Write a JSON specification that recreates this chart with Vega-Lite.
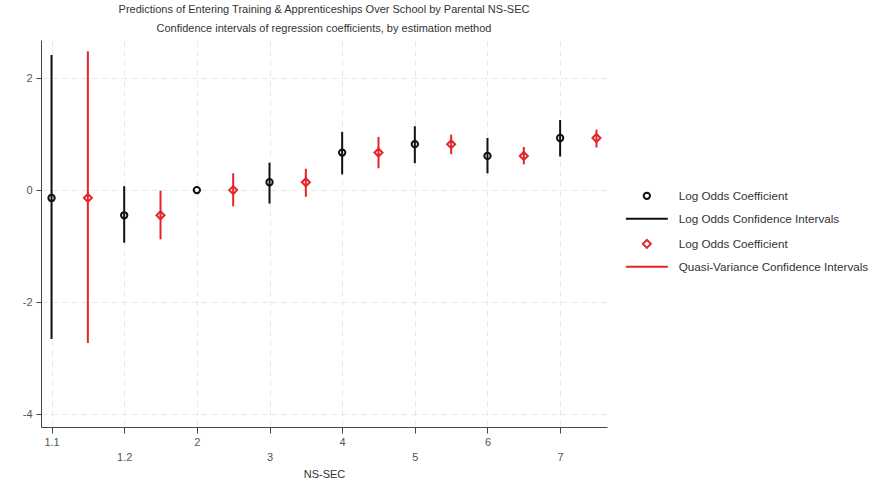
{
  "$schema": "https://vega.github.io/schema/vega-lite/v6.json",
  "width": 566,
  "height": 387,
  "autosize": "none",
  "padding": {"left": 41, "top": 40, "right": 272, "bottom": 54},
  "background": "white",
  "title": {
    "text": "Predictions of Entering Training & Apprenticeships Over School by Parental NS-SEC",
    "subtitle": "Confidence intervals of regression coefficients, by estimation method",
    "font": "Liberation Sans", "fontSize": 11, "fontWeight": "normal", "color": "#333",
    "subtitleFont": "Liberation Sans", "subtitleFontSize": 11, "subtitleColor": "#333",
    "subtitlePadding": 8, "offset": 6, "anchor": "middle"
  },
  "data": {"values": [
    {"nssec": "1.1", "method": "LO", "pt": "LO_pt", "ci": "LO_ci", "est": -0.14, "lo": -2.66, "hi": 2.41},
    {"nssec": "1.1", "method": "QV", "pt": "QV_pt", "ci": "QV_ci", "est": -0.14, "lo": -2.73, "hi": 2.48},
    {"nssec": "1.2", "method": "LO", "pt": "LO_pt", "ci": "LO_ci", "est": -0.45, "lo": -0.94, "hi": 0.07},
    {"nssec": "1.2", "method": "QV", "pt": "QV_pt", "ci": "QV_ci", "est": -0.45, "lo": -0.88, "hi": -0.01},
    {"nssec": "2", "method": "LO", "pt": "LO_pt", "ci": "LO_ci", "est": 0.0, "lo": null, "hi": null},
    {"nssec": "2", "method": "QV", "pt": "QV_pt", "ci": "QV_ci", "est": 0.0, "lo": -0.29, "hi": 0.30},
    {"nssec": "3", "method": "LO", "pt": "LO_pt", "ci": "LO_ci", "est": 0.14, "lo": -0.24, "hi": 0.49},
    {"nssec": "3", "method": "QV", "pt": "QV_pt", "ci": "QV_ci", "est": 0.14, "lo": -0.12, "hi": 0.38},
    {"nssec": "4", "method": "LO", "pt": "LO_pt", "ci": "LO_ci", "est": 0.67, "lo": 0.28, "hi": 1.04},
    {"nssec": "4", "method": "QV", "pt": "QV_pt", "ci": "QV_ci", "est": 0.67, "lo": 0.39, "hi": 0.95},
    {"nssec": "5", "method": "LO", "pt": "LO_pt", "ci": "LO_ci", "est": 0.82, "lo": 0.48, "hi": 1.14},
    {"nssec": "5", "method": "QV", "pt": "QV_pt", "ci": "QV_ci", "est": 0.82, "lo": 0.64, "hi": 0.99},
    {"nssec": "6", "method": "LO", "pt": "LO_pt", "ci": "LO_ci", "est": 0.61, "lo": 0.30, "hi": 0.93},
    {"nssec": "6", "method": "QV", "pt": "QV_pt", "ci": "QV_ci", "est": 0.61, "lo": 0.46, "hi": 0.77},
    {"nssec": "7", "method": "LO", "pt": "LO_pt", "ci": "LO_ci", "est": 0.93, "lo": 0.60, "hi": 1.25},
    {"nssec": "7", "method": "QV", "pt": "QV_pt", "ci": "QV_ci", "est": 0.93, "lo": 0.76, "hi": 1.08}
  ]},
  "transform": [{"calculate": "datum.nssec + '|' + datum.method", "as": "slot"}],
  "encoding": {
    "x": {
      "field": "slot", "type": "nominal", "title": "NS-SEC",
      "scale": {"type": "point", "padding": 0.29,
        "domain": ["1.1|LO","1.1|QV","1.2|LO","1.2|QV","2|LO","2|QV","3|LO","3|QV","4|LO","4|QV","5|LO","5|QV","6|LO","6|QV","7|LO","7|QV"]},
      "axis": {
        "values": ["1.1|LO","1.2|LO","2|LO","3|LO","4|LO","5|LO","6|LO","7|LO"],
        "labelExpr": "indexof(['1.1','1.2','2','3','4','5','6','7'], split(datum.value,'|')[0]) % 2 == 1 ? [' ', split(datum.value,'|')[0]] : split(datum.value,'|')[0]",
        "labelAngle": 0, "labelFont": "Liberation Sans", "labelFontSize": 11, "labelColor": "#555",
        "labelPadding": 3, "labelLineHeight": 15,
        "domainColor": "#444", "tickColor": "#444", "tickSize": 6,
        "grid": true, "gridDash": [6, 4], "gridColor": "#e8e8e8",
        "titleFont": "Liberation Sans", "titleFontSize": 11, "titleFontWeight": "normal", "titleColor": "#333", "titlePadding": 6
      }
    }
  },
  "layer": [
    {
      "mark": {"type": "rule", "strokeWidth": 2},
      "encoding": {
        "y": {"field": "lo", "type": "quantitative"},
        "y2": {"field": "hi"},
        "color": {"field": "ci", "type": "nominal",
          "scale": {"domain": ["LO_pt","LO_ci","QV_pt","QV_ci"], "range": ["#111111","#111111","#e3242b","#e3242b"]}}
      }
    },
    {
      "mark": {"type": "point", "filled": false, "strokeWidth": 2, "opacity": 1},
      "encoding": {
        "y": {
          "field": "est", "type": "quantitative",
          "scale": {"domain": [-4.23, 2.68], "nice": false, "zero": false},
          "axis": {
            "title": null, "values": [-4, -2, 0, 2], "format": "d",
            "labelExpr": "replace(datum.label, '\u2212', '-')",
            "labelFont": "Liberation Sans", "labelFontSize": 11, "labelColor": "#555", "labelPadding": 4,
            "domainColor": "#444", "tickColor": "#444", "tickSize": 5,
            "grid": true, "gridDash": [6, 4], "gridColor": "#e8e8e8"
          }
        },
        "color": {"field": "pt", "type": "nominal",
          "scale": {"domain": ["LO_pt","LO_ci","QV_pt","QV_ci"], "range": ["#111111","#111111","#e3242b","#e3242b"]},
          "legend": {
            "title": null, "orient": "none", "legendX": 600, "legendY": 150,
            "labelExpr": "{'LO_pt': 'Log Odds Coefficient', 'LO_ci': 'Log Odds Confidence Intervals', 'QV_pt': 'Log Odds Coefficient', 'QV_ci': 'Quasi-Variance Confidence Intervals'}[datum.label]",
            "labelFont": "Liberation Sans", "labelFontSize": 11.7, "labelColor": "#333", "labelLimit": 400,
            "labelOffset": 26, "rowPadding": 9, "symbolStrokeWidth": 2
          }
        },
        "shape": {"field": "pt", "type": "nominal",
          "scale": {"domain": ["LO_pt","LO_ci","QV_pt","QV_ci"], "range": ["circle","M -6,0 L 6,0","diamond","M -6,0 L 6,0"]}},
        "size": {"field": "pt", "type": "nominal",
          "scale": {"type": "ordinal", "domain": ["LO_pt","LO_ci","QV_pt","QV_ci"], "range": [40, 49, 64, 49]}}
      }
    }
  ],
  "config": {"view": {"stroke": null}}
}
